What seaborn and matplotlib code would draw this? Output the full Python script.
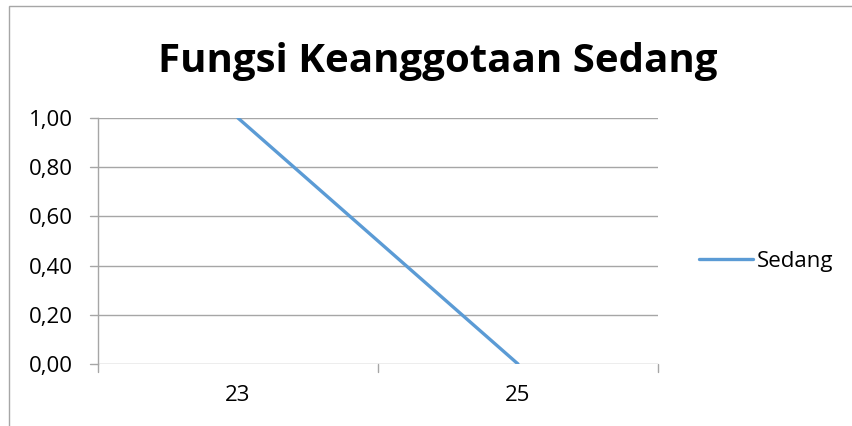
import matplotlib
matplotlib.use("Agg")
import matplotlib.pyplot as plt
import seaborn as sns
import pandas as pd
from matplotlib.patches import Rectangle

# Membership data for the "Sedang" fuzzy set
categories = ["23", "25"]
sedang = [1.0, 0.0]
y_ticks = [0.0, 0.2, 0.4, 0.6, 0.8, 1.0]

df = pd.DataFrame({"pos": range(len(categories)), "Sedang": sedang})

sns.set_theme(style="white")
plt.rcParams["font.family"] = ["Open Sans", "DejaVu Sans"]
plt.rcParams["text.color"] = "black"
plt.rcParams["xtick.color"] = "black"
plt.rcParams["ytick.color"] = "black"

W, H = 853, 426
fig = plt.figure(figsize=(W / 100, H / 100), dpi=100)
ax = fig.add_axes([98 / W, 1 - 364 / H, (658 - 98) / W, (364 - 118) / H])

sns.lineplot(data=df, x="pos", y="Sedang", ax=ax, color="#5b9bd5",
             linewidth=2.4, label="Sedang", legend=False, zorder=3)

ax.set_xlim(-0.5, len(categories) - 0.5)
ax.set_ylim(0, 1)
ax.set_yticks(y_ticks)
ax.set_yticklabels([f"{v:.2f}".replace(".", ",") for v in y_ticks], fontsize=16)
ax.set_xticks(range(len(categories)))
ax.set_xticklabels(categories, fontsize=16)
ax.tick_params(axis="y", length=0, pad=18)
ax.tick_params(axis="x", length=0, pad=15)
ax.set_xlabel("")
ax.set_ylabel("")

grid_c = "#a6a6a6"
for v in y_ticks:
    ax.axhline(v, color=grid_c, linewidth=1.0, zorder=1)
for s in ["top", "right", "bottom"]:
    ax.spines[s].set_visible(False)
ax.spines["left"].set_color(grid_c)
ax.spines["left"].set_linewidth(1.0)

# small outward tick marks, Excel style
for v in y_ticks:
    ax.plot([-0.5 - 8 / 280, -0.5], [v, v], color=grid_c, lw=1.0, clip_on=False)
for b in [-0.5, 0.5, 1.5]:
    ax.plot([b, b], [0, -8 / 246], color=grid_c, lw=1.0, clip_on=False)

fig.text(438 / W, 1 - 72 / H, "Fungsi Keanggotaan Sedang", ha="center", va="baseline",
         fontsize=29, fontweight="bold", color="black")

# legend entry
fig.lines.append(plt.Line2D([699 / W, 753 / W], [1 - 259 / H] * 2, color="#5b9bd5",
                            lw=2.4, transform=fig.transFigure))
fig.text(757 / W, 1 - 267 / H, "Sedang", ha="left", va="baseline", fontsize=16)

# chart border
fig.patches.append(Rectangle((8.5 / W, -0.1), 1.2, 1 - 5.5 / H + 0.1, transform=fig.transFigure,
                             fill=False, edgecolor="#a6a6a6", lw=1.0))

fig.savefig("out.png", dpi=100)
